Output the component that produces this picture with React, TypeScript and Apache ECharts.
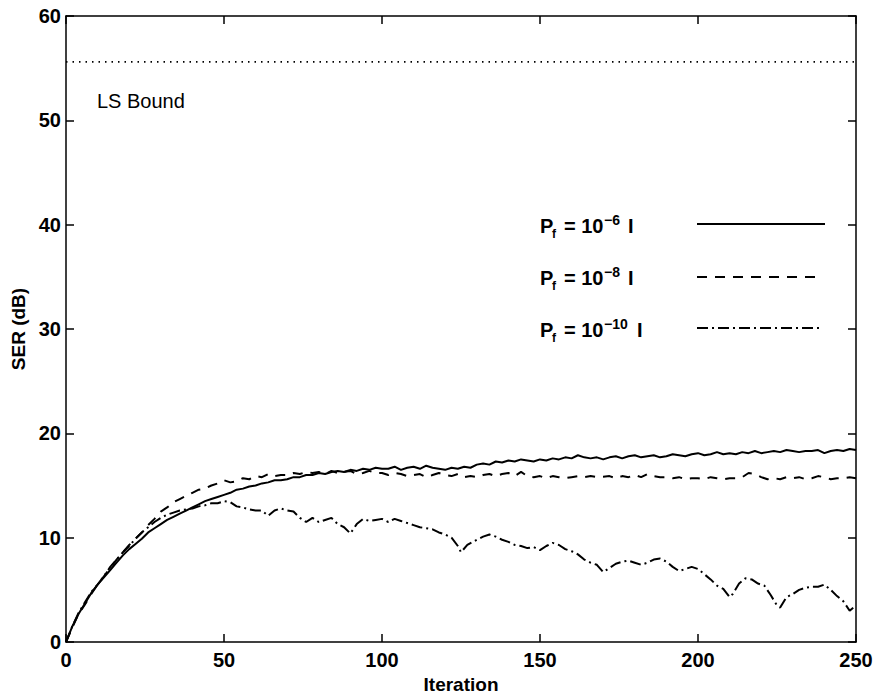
import React, { useEffect, useRef } from "react";
import * as echarts from "echarts";

// Iteration grid shared by the two smooth curves
const ITER_STEP2: number[] = Array.from({ length: 126 }, (_, i) => i * 2);

// SER (dB) for P_f = 10^-6 I
const SER_PF6: number[] = [
  0, 1.5, 2.7, 3.7, 4.7, 5.5, 6.2, 6.9, 7.6, 8.3, 8.9, 9.4, 9.9, 10.5, 10.9, 11.3,
  11.7, 12.0, 12.3, 12.6, 12.9, 13.2, 13.5, 13.7, 13.9, 14.1, 14.3, 14.6, 14.7, 14.9, 15.0,
  15.2, 15.3, 15.5, 15.5, 15.6, 15.8, 15.8, 16.0, 16.0, 16.2, 16.1, 16.3, 16.4, 16.3, 16.5,
  16.4, 16.6, 16.5, 16.7, 16.6, 16.6, 16.8, 16.5, 16.7, 16.8, 16.6, 16.9, 16.7, 16.6, 16.5,
  16.7, 16.6, 16.8, 16.7, 17.0, 17.1, 17.0, 17.3, 17.2, 17.4, 17.3, 17.5, 17.4, 17.3, 17.5,
  17.4, 17.6, 17.5, 17.7, 17.6, 17.9, 17.7, 17.6, 17.7, 17.5, 17.7, 17.8, 17.6, 17.8, 17.9,
  17.7, 17.8, 17.9, 17.7, 17.8, 18.0, 17.9, 17.8, 18.0, 18.1, 17.9, 18.0, 18.2, 18.0, 18.1,
  18.0, 18.2, 18.1, 18.3, 18.1, 18.2, 18.3, 18.2, 18.4, 18.3, 18.2, 18.3, 18.3, 18.4, 18.1,
  18.3, 18.4, 18.3, 18.5, 18.4,
];

// SER (dB) for P_f = 10^-8 I
const SER_PF8: number[] = [
  0, 1.4, 2.7, 3.6, 4.6, 5.5, 6.3, 7.1, 7.9, 8.6, 9.3, 9.9, 10.5, 11.2, 11.8, 12.5,
  12.9, 13.4, 13.7, 14.0, 14.3, 14.6, 14.7, 15.0, 15.2, 15.5, 15.3, 15.4, 15.7, 15.6, 15.9,
  15.8, 16.1, 15.9, 16.0, 16.0, 16.2, 16.1, 16.3, 16.2, 16.3, 16.1, 16.4, 16.2, 16.3, 16.4,
  16.1, 16.2, 16.4, 16.2, 16.2, 16.0, 16.2, 16.1, 15.9, 16.0, 16.1, 15.8, 16.0, 16.2, 16.0,
  15.9, 16.1, 15.8, 15.9, 15.8, 16.0, 16.1, 15.9, 16.1, 16.2, 15.9, 16.3, 15.9, 15.8, 15.9,
  15.7, 15.9, 15.8, 15.7, 15.8, 15.9, 15.8, 15.9, 15.8, 15.85, 15.9, 15.7, 15.9, 15.8, 16.0,
  15.8, 16.1, 15.9, 15.8, 15.8, 15.7, 15.8, 15.6, 15.7, 15.7, 15.6, 15.8, 15.7, 15.6, 15.7,
  15.7, 15.8, 16.2, 16.1, 15.8, 15.6, 15.7, 15.6, 15.8, 15.7, 15.8, 15.6, 15.7, 15.9, 15.8,
  15.6, 15.7, 15.7, 15.8, 15.7,
];

// Iterations and SER (dB) for P_f = 10^-10 I
const ITER_PF10: number[] = [
  0, 2, 4, 6, 8, 10, 12, 14, 16, 18, 20, 22, 24, 26, 28, 30, 32, 34, 36, 38, 40, 42, 44, 46,
  48, 50, 52, 54, 56, 58, 60, 62, 64, 66, 68, 70, 72, 74, 76, 78, 80, 82, 84, 86, 88, 90, 92,
  94, 96, 98, 100, 102, 104, 106, 108, 110, 112, 114, 116, 118, 120, 122, 124, 125, 127, 130,
  132, 134, 136, 138, 140, 142, 144, 146, 148, 150, 152, 154, 156, 158, 160, 162, 164, 166,
  168, 170, 172, 174, 176, 178, 180, 182, 184, 186, 188, 190, 192, 194, 196, 198, 200, 202,
  204, 206, 208, 210, 211, 213, 215, 217, 219, 221, 223, 225, 226, 228, 230, 232, 234, 236,
  238, 240, 242, 244, 246, 248, 250,
];
const SER_PF10: number[] = [
  0, 1.5, 2.8, 3.8, 4.8, 5.5, 6.3, 7.2, 7.9, 8.6, 9.2, 9.9, 10.5, 11.0, 11.5, 11.9, 12.2,
  12.4, 12.6, 12.7, 12.8, 13.0, 13.1, 13.3, 13.3, 13.5, 13.4, 13.0, 12.9, 12.7, 12.6, 12.6,
  12.1, 12.6, 12.8, 12.6, 12.5, 11.9, 11.5, 11.9, 11.5, 11.7, 11.9, 11.3, 11.0, 10.4, 11.3,
  11.8, 11.6, 11.7, 11.8, 11.5, 11.8, 11.6, 11.4, 11.2, 11.0, 10.9, 10.8, 10.5, 10.3, 10.0,
  9.2, 8.6, 9.3, 9.8, 10.1, 10.3, 10.1, 9.8, 9.6, 9.3, 9.2, 9.0, 9.1, 8.8, 9.2, 9.5, 9.3,
  8.9, 8.7, 8.4, 7.9, 7.6, 7.4, 6.7, 7.1, 7.5, 7.7, 7.8, 7.6, 7.4, 7.6, 7.9, 8.0, 7.7, 7.2,
  6.8, 7.0, 7.2, 7.0, 6.5, 6.0, 5.4, 5.1, 4.3, 4.6, 5.6, 6.1, 6.0, 5.6, 5.4, 4.5, 3.5, 3.3,
  4.3, 4.6, 5.0, 5.2, 5.3, 5.3, 5.5, 5.0, 4.4, 3.9, 3.0, 3.5,
];

// Least-squares bound (dB)
const LS_BOUND = 55.6;

// Axis ranges and ticks
const X_MIN = 0;
const X_MAX = 250;
const X_STEP = 50;
const Y_MIN = 0;
const Y_MAX = 60;
const Y_STEP = 10;

const FONT = "'Liberation Sans', Arial, Helvetica, sans-serif";
const DASHED = [10, 8];
const DASH_DOT = [11, 4, 2, 4];

const zip = (xs: number[], ys: number[]) => xs.map((x, i) => [x, ys[i]]);

export default function App() {
  const ref = useRef<HTMLDivElement>(null);

  useEffect(() => {
    if (!ref.current) return;
    const chart = echarts.init(ref.current, undefined, { renderer: "svg" });

    const axisLine = { show: true, onZero: false, lineStyle: { color: "#000", width: 1.5 } };
    const tickIn = { show: true, inside: true, length: 8, lineStyle: { color: "#000", width: 1.5 } };
    const tickLabel = { color: "#000", fontFamily: FONT, fontWeight: "bold" as const, fontSize: 20 };

    const legendRows = [
      { y: 226, sup: "\u22126", lineY: 224, x2: 825, dash: null as number[] | null, iX: 628 },
      { y: 278, sup: "\u22128", lineY: 277, x2: 815, dash: DASHED, iX: 628 },
      { y: 330, sup: "\u221210", lineY: 328, x2: 820, dash: DASH_DOT, iX: 637 },
    ];

    const graphics: any[] = [];
    legendRows.forEach((r) => {
      const base = { fill: "#000", fontFamily: FONT, fontWeight: "bold", verticalAlign: "middle", align: "left" };
      graphics.push(
        { type: "text", x: 540, y: r.y, style: { ...base, text: "P", fontSize: 20 } },
        { type: "text", x: 552, y: r.y + 8, style: { ...base, text: "f", fontSize: 12 } },
        { type: "text", x: 564, y: r.y, style: { ...base, text: "= 10", fontSize: 20 } },
        { type: "text", x: 604, y: r.y - 6, style: { ...base, text: r.sup, fontSize: 14 } },
        { type: "text", x: r.iX, y: r.y, style: { ...base, text: "I", fontSize: 20 } },
        {
          type: "line",
          shape: { x1: 697, y1: r.lineY, x2: r.x2, y2: r.lineY },
          style: { stroke: "#000", lineWidth: 2, lineDash: r.dash || undefined },
        }
      );
    });
    graphics.push({
      type: "text",
      x: 97,
      y: 101,
      style: { text: "LS Bound", fill: "#000", fontFamily: FONT, fontSize: 20, verticalAlign: "middle" },
    });

    const lineSeries = (name: string, data: number[][], dash: number[] | null) => ({
      name,
      type: "line",
      data,
      symbol: "none",
      silent: true,
      lineStyle: { color: "#000", width: 2, type: dash || "solid" },
      xAxisIndex: 0,
      yAxisIndex: 0,
    });

    chart.setOption({
      animation: false,
      backgroundColor: "#fff",
      grid: { left: 66, right: 20, top: 16, bottom: 52, containLabel: false, outerBoundsMode: "none" },
      xAxis: [
        {
          type: "value",
          min: X_MIN,
          max: X_MAX,
          interval: X_STEP,
          name: "Iteration",
          nameLocation: "middle",
          nameGap: 27,
          nameTextStyle: { color: "#000", fontFamily: FONT, fontWeight: "bold", fontSize: 19 },
          axisLine,
          axisTick: tickIn,
          axisLabel: { ...tickLabel, margin: 8 },
          splitLine: { show: false },
        },
        {
          type: "value",
          position: "top",
          min: X_MIN,
          max: X_MAX,
          interval: X_STEP,
          axisLine,
          axisTick: tickIn,
          axisLabel: { show: false },
          splitLine: { show: false },
        },
      ],
      yAxis: [
        {
          type: "value",
          min: Y_MIN,
          max: Y_MAX,
          interval: Y_STEP,
          name: "SER (dB)",
          nameLocation: "middle",
          nameGap: 33,
          nameTextStyle: { color: "#000", fontFamily: FONT, fontWeight: "bold", fontSize: 19 },
          axisLine,
          axisTick: tickIn,
          axisLabel: { ...tickLabel, margin: 5 },
          splitLine: { show: false },
        },
        {
          type: "value",
          position: "right",
          min: Y_MIN,
          max: Y_MAX,
          interval: Y_STEP,
          axisLine,
          axisTick: tickIn,
          axisLabel: { show: false },
          splitLine: { show: false },
        },
      ],
      series: [
        {
          name: "LS Bound",
          type: "line",
          data: [
            [X_MIN, LS_BOUND],
            [X_MAX, LS_BOUND],
          ],
          symbol: "none",
          silent: true,
          lineStyle: { color: "#000", width: 1.8, type: [1.5, 5] },
        },
        lineSeries("P_f = 10^-6 I", zip(ITER_STEP2, SER_PF6), null),
        lineSeries("P_f = 10^-8 I", zip(ITER_STEP2, SER_PF8), DASHED),
        lineSeries("P_f = 10^-10 I", zip(ITER_PF10, SER_PF10), DASH_DOT),
      ],
      graphic: graphics,
    });

    return () => chart.dispose();
  }, []);

  return <div ref={ref} style={{ width: 876, height: 694, position: "absolute", left: 0, top: 0 }} />;
}
